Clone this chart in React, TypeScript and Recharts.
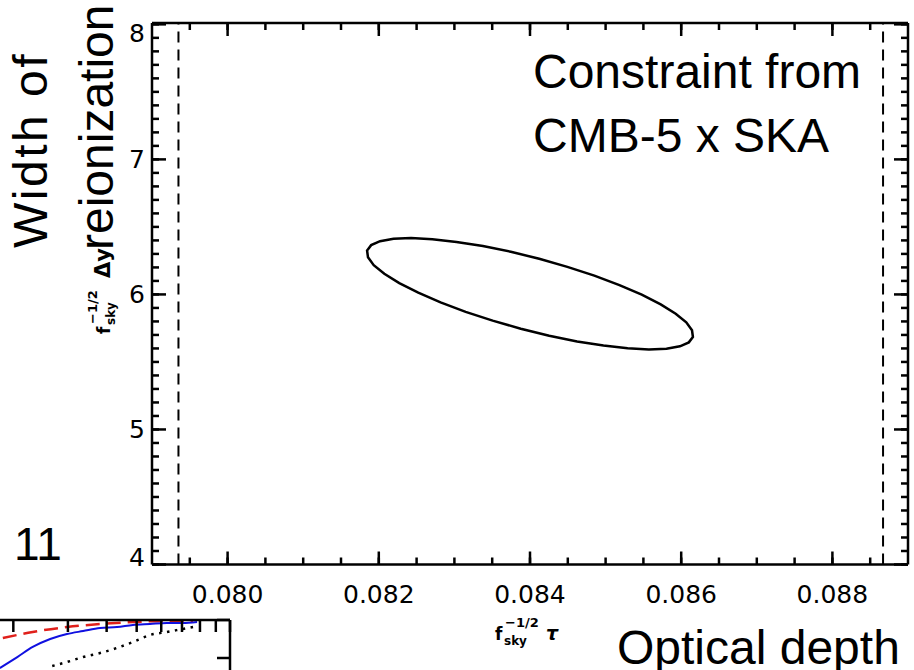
import { Line, LineChart, ReferenceLine, XAxis, YAxis } from 'recharts';

// main panel: optical depth vs width of reionization
const TAU_TICKS = [
  0.0795, 0.08, 0.0805, 0.081, 0.0815, 0.082, 0.0825, 0.083, 0.0835, 0.084,
  0.0845, 0.085, 0.0855, 0.086, 0.0865, 0.087, 0.0875, 0.088, 0.0885,
];
const TAU_LABELS = [0.08, 0.082, 0.084, 0.086, 0.088];
const WIDTH_TICKS = [
  4, 4.1, 4.2, 4.3, 4.4, 4.5, 4.6, 4.7, 4.8, 4.9, 5, 5.1, 5.2, 5.3, 5.4, 5.5, 5.6,
  5.7, 5.8, 5.9, 6, 6.1, 6.2, 6.3, 6.4, 6.5, 6.6, 6.7, 6.8, 6.9, 7, 7.1, 7.2, 7.3,
  7.4, 7.5, 7.6, 7.7, 7.8, 7.9, 8,
];
const WIDTH_LABELS = [4, 5, 6, 7, 8];
const TAU_LIMITS = [0.07935, 0.08867];

// 1-sigma contour
const ELLIPSE_TAU = [
  0.086155, 0.086101, 0.085983, 0.085805, 0.085573, 0.085292, 0.084972, 0.084623,
  0.084254, 0.083878, 0.083506, 0.083149, 0.082817, 0.082522, 0.082271, 0.082073,
  0.081933, 0.081857, 0.081845, 0.081899, 0.082017, 0.082195, 0.082427, 0.082708,
  0.083028, 0.083377, 0.083746, 0.084122, 0.084494, 0.084851, 0.085183, 0.085478,
  0.085729, 0.085927, 0.086067, 0.086143,
];
const ELLIPSE_WIDTH = [
  5.685, 5.645, 5.616, 5.598, 5.593, 5.601, 5.621, 5.652, 5.694, 5.746, 5.806, 5.871,
  5.941, 6.013, 6.084, 6.153, 6.217, 6.275, 6.325, 6.365, 6.394, 6.412, 6.417, 6.409,
  6.389, 6.358, 6.316, 6.264, 6.204, 6.139, 6.069, 5.998, 5.926, 5.857, 5.793, 5.735,
];

// corner of the neighbouring panel (cut off at the bottom left)
const INSET_TICKS = [1, 2, 3, 4, 5, 6, 7, 8, 9, 10];
const INSET_Y_TICKS = [0.2, 0.4, 0.6, 0.8, 1];
const RED_X = [1.85, 2.31, 2.98, 3.81, 4.86, 6.26, 7.6];
const RED_Y = [0.905, 0.937, 0.963, 0.979, 0.989, 0.995, 0.995];
const BLUE_X = [1.81, 2.06, 2.31, 2.63, 2.98, 3.36, 3.81, 4.32, 4.86, 5.52, 6.26, 7.05, 7.83];
const BLUE_Y = [0.747, 0.805, 0.858, 0.9, 0.926, 0.942, 0.958, 0.963, 0.974, 0.979, 0.984, 0.984, 0.989];
const DOT_X = [2.67, 2.98, 3.36, 3.81, 4.32, 4.86, 5.52, 6.26, 7.05, 7.6];
const DOT_Y = [0.758, 0.779, 0.805, 0.826, 0.853, 0.884, 0.921, 0.937, 0.953, 0.963];

const TICK_FONT = '"DejaVu Sans", sans-serif';
const LABEL_FONT = '"Liberation Sans", Arial, sans-serif';
const AXIS_LINE = { stroke: '#000', strokeWidth: 2.5 };
const TICK_COLOR = '#000';
const TICK_LINE = { stroke: TICK_COLOR, strokeWidth: 2.5 };
const MINOR = 7; // built-in tick lines, drawn inwards
const MAJOR = 13;

const isOneOf = (list: number[], v: number) => list.some((l) => Math.abs(l - v) < 1e-7);

// custom ticks: extend the major tick marks and write the labels
const BottomTick = ({ x, y, payload }: any) => {
  if (!isOneOf(TAU_LABELS, payload.value)) return <g />;
  const axisY = y + MINOR;
  return (
    <g>
      <path d={`M${x},${axisY}V${axisY - MAJOR}`} stroke={TICK_COLOR} strokeWidth={2.5} />
      <text x={x} y={axisY + 38} textAnchor="middle" fontFamily={TICK_FONT} fontSize={25} fill="#000">
        {payload.value.toFixed(3)}
      </text>
    </g>
  );
};

const TopTick = ({ x, y, payload }: any) => {
  if (!isOneOf(TAU_LABELS, payload.value)) return <g />;
  const axisY = y - MINOR;
  return <path d={`M${x},${axisY}V${axisY + MAJOR}`} stroke={TICK_COLOR} strokeWidth={2.5} />;
};

const LeftTick = ({ x, y, payload }: any) => {
  if (!isOneOf(WIDTH_LABELS, payload.value)) return <g />;
  const axisX = x - MINOR;
  const shift = payload.value === 8 ? 9 : payload.value === 4 ? -8 : 0;
  return (
    <g>
      <path d={`M${axisX},${y}H${axisX + MAJOR + 1}`} stroke={TICK_COLOR} strokeWidth={2.5} />
      <text x={axisX - 7} y={y + 9 + shift} textAnchor="end" fontFamily={TICK_FONT} fontSize={25} fill="#000">
        {payload.value}
      </text>
    </g>
  );
};

const RightTick = ({ x, y, payload }: any) => {
  if (!isOneOf(WIDTH_LABELS, payload.value)) return <g />;
  const axisX = x + MINOR;
  return <path d={`M${axisX},${y}H${axisX - MAJOR - 1}`} stroke={TICK_COLOR} strokeWidth={2.5} />;
};

// the inset only shows tick marks, no labels
const NoLabel = () => <g />;

const SkyLabel = ({ symbol, italic }: { symbol: string; italic: boolean }) => (
  <text fontFamily={TICK_FONT} fontWeight="bold" fill="#000">
    <tspan x={0} y={0} fontSize={17}>f</tspan>
    <tspan x={9} y={5} fontSize={12}>sky</tspan>
    <tspan x={10} y={-13} fontSize={13}>−1/2</tspan>
    <tspan x={italic ? 51 : 56} y={0} fontSize={italic ? 19 : 21} fontStyle={italic ? 'italic' : 'normal'}>
      {symbol}
    </tspan>
  </text>
);

export default function App() {
  const ellipse = ELLIPSE_TAU.map((tau, i) => ({ tau, width: ELLIPSE_WIDTH[i] }));
  const red = RED_X.map((x, i) => ({ x, y: RED_Y[i] }));
  const blue = BLUE_X.map((x, i) => ({ x, y: BLUE_Y[i] }));
  const dotted = DOT_X.map((x, i) => ({ x, y: DOT_Y[i] }));

  return (
    <div style={{ position: 'absolute', left: 0, top: 0, width: 914, height: 670, overflow: 'hidden', background: '#fff' }}>
      <div style={{ position: 'absolute', left: 0, top: 0 }}>
        <LineChart width={914} height={670} data={ellipse} margin={{ top: 22, right: 5, bottom: 0, left: 0 }}>
          <XAxis
            xAxisId="b"
            dataKey="tau"
            type="number"
            domain={[0.079, 0.089]}
            allowDataOverflow
            ticks={TAU_TICKS}
            interval={0}
            tickSize={-MINOR}
            tickMargin={0}
            tickLine={TICK_LINE}
            axisLine={AXIS_LINE}
            tick={<BottomTick />}
            height={105.5}
          />
          <XAxis
            xAxisId="t"
            orientation="top"
            dataKey="tau"
            type="number"
            domain={[0.079, 0.089]}
            allowDataOverflow
            ticks={TAU_TICKS}
            interval={0}
            tickSize={-MINOR}
            tickMargin={0}
            tickLine={TICK_LINE}
            axisLine={AXIS_LINE}
            tick={<TopTick />}
            height={1}
          />
          <YAxis
            yAxisId="l"
            type="number"
            domain={[4, 8.01]}
            allowDataOverflow
            ticks={WIDTH_TICKS}
            interval={0}
            tickSize={-MINOR}
            tickMargin={0}
            tickLine={TICK_LINE}
            axisLine={AXIS_LINE}
            tick={<LeftTick />}
            width={152}
          />
          <YAxis
            yAxisId="r"
            orientation="right"
            type="number"
            domain={[4, 8.01]}
            allowDataOverflow
            ticks={WIDTH_TICKS}
            interval={0}
            tickSize={-MINOR}
            tickMargin={0}
            tickLine={TICK_LINE}
            axisLine={AXIS_LINE}
            tick={<RightTick />}
            width={1}
          />
          {TAU_LIMITS.map((tau) => (
            <ReferenceLine
              key={tau}
              x={tau}
              xAxisId="b"
              yAxisId="l"
              stroke="#000"
              strokeWidth={2}
              strokeDasharray="11 7"
            />
          ))}
          <Line
            xAxisId="b"
            yAxisId="l"
            dataKey="width"
            type="linearClosed"
            stroke="#000"
            strokeWidth={2.5}
            dot={false}
            isAnimationActive={false}
          />
        </LineChart>
      </div>

      <div style={{ position: 'absolute', left: -80, top: 610 }}>
        <LineChart width={320} height={200} margin={{ top: 0, right: 0, bottom: 0, left: 0 }}>
          <XAxis
            xAxisId="t"
            orientation="top"
            dataKey="x"
            type="number"
            scale="log"
            domain={[1, 10]}
            allowDataOverflow
            ticks={INSET_TICKS}
            interval={0}
            tickSize={-12}
            tickMargin={0}
            tickLine={TICK_LINE}
            axisLine={{ stroke: '#000', strokeWidth: 2.5 }}
            tick={<NoLabel />}
            height={10}
          />
          <YAxis
            yAxisId="r"
            orientation="right"
            type="number"
            domain={[0, 1]}
            allowDataOverflow
            ticks={INSET_Y_TICKS}
            interval={0}
            tickSize={-13}
            tickMargin={0}
            tickLine={TICK_LINE}
            axisLine={{ stroke: '#000', strokeWidth: 2.5 }}
            tick={<NoLabel />}
            width={10}
          />
          <Line data={red} xAxisId="t" yAxisId="r" dataKey="y" type="monotone" stroke="#e0201b" strokeWidth={2.5} strokeDasharray="14 7" dot={false} isAnimationActive={false} />
          <Line data={blue} xAxisId="t" yAxisId="r" dataKey="y" type="monotone" stroke="#1010e0" strokeWidth={2} dot={false} isAnimationActive={false} />
          <Line data={dotted} xAxisId="t" yAxisId="r" dataKey="y" type="monotone" stroke="#000" strokeWidth={2.5} strokeDasharray="2.5 5.5" dot={false} isAnimationActive={false} />
        </LineChart>
      </div>

      <svg width={914} height={670} style={{ position: 'absolute', left: 0, top: 0, pointerEvents: 'none' }}>
        <text transform="translate(47,248) rotate(-90)" fontFamily={LABEL_FONT} fontSize={48} letterSpacing={2.5} fill="#000">
          Width of
        </text>
        <text transform="translate(113,250) rotate(-90)" fontFamily={LABEL_FONT} fontSize={48} fill="#000">
          reionization
        </text>
        <g transform="translate(110,334) rotate(-90)">
          <SkyLabel symbol="Δy" italic={false} />
        </g>
        <g transform="translate(495,640)">
          <SkyLabel symbol="τ" italic />
        </g>
        <text x={617} y={664} fontFamily={LABEL_FONT} fontSize={48} fill="#000">
          Optical depth
        </text>
        <text x={533} y={88} fontFamily={LABEL_FONT} fontSize={48} fill="#000">
          Constraint from
        </text>
        <text x={533} y={152} fontFamily={LABEL_FONT} fontSize={48} fill="#000">
          CMB-5 x SKA
        </text>
        <text x={14} y={560} fontFamily={LABEL_FONT} fontSize={46} fill="#000">
          11
        </text>
      </svg>
    </div>
  );
}
